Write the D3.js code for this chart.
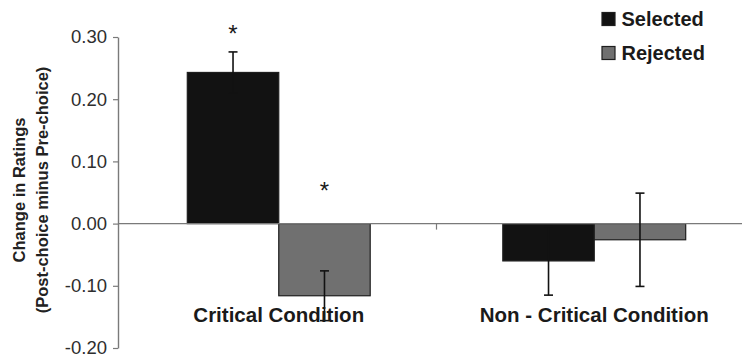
<!DOCTYPE html>
<html>
<head>
<meta charset="utf-8">
<script src="https://cdn.jsdelivr.net/npm/d3@7"></script>
<style>
  html, body { margin: 0; padding: 0; background: #fff; }
  svg { display: block; font-family: "Liberation Sans", Arial, sans-serif; }
</style>
</head>
<body>
<svg id="chart" width="742" height="360"></svg>
<script>
// ---- data ----
const categories = ["Critical Condition", "Non - Critical Condition"];
const seriesNames = ["Selected", "Rejected"];
const selectedValues = [0.243, -0.060];
const rejectedValues = [-0.116, -0.026];
const selectedErrors = [0.033, 0.055];
const rejectedErrors = [0.040, 0.075];
// significance markers: [category index, series index, level in rating units]
const sigCategory = [0, 0];
const sigSeries = [0, 1];
const sigLevel = [0.292, 0.040];
const yTicks = [-0.20, -0.10, 0.00, 0.10, 0.20, 0.30];
const yTickLabels = ["-0.20", "-0.10", "0.00", "0.10", "0.20", "0.30"];
const yTitleLines = ["Change in Ratings", "(Post-choice minus Pre-choice)"];

// ---- styles ----
const colors = { Selected: "#121212", Rejected: "#707070" };

const svg = d3.select("#chart");
const W = 742, H = 360;
const axisX = 118;

const y = d3.scaleLinear().domain([-0.2, 0.3]).range([348, 37]);
const x0 = d3.scaleBand().domain(categories).range([121, 752]).paddingInner(0).paddingOuter(0);
const x1 = d3.scaleBand().domain(seriesNames).range([0, x0.bandwidth()]).paddingInner(0).paddingOuter(0.725);

const rows = [];
categories.forEach((c, i) => {
  rows.push({ cat: c, series: "Selected", value: selectedValues[i], err: selectedErrors[i] });
  rows.push({ cat: c, series: "Rejected", value: rejectedValues[i], err: rejectedErrors[i] });
});

// bars
svg.append("g").selectAll("rect").data(rows).join("rect")
  .attr("x", d => x0(d.cat) + x1(d.series))
  .attr("width", x1.bandwidth())
  .attr("y", d => y(Math.max(0, d.value)))
  .attr("height", d => Math.abs(y(d.value) - y(0)))
  .attr("fill", d => colors[d.series])
  .attr("stroke", "#1e1e1e")
  .attr("stroke-width", 1.2);

// zero line
svg.append("line")
  .attr("x1", axisX).attr("x2", W)
  .attr("y1", y(0)).attr("y2", y(0))
  .attr("stroke", "#7a7a7a").attr("stroke-width", 1.4);

// category boundary tick
svg.append("g").selectAll("line").data(categories.slice(1)).join("line")
  .attr("x1", d => x0(d)).attr("x2", d => x0(d))
  .attr("y1", y(0)).attr("y2", y(0) + 6)
  .attr("stroke", "#7a7a7a").attr("stroke-width", 1.2);

// error bars
const eb = svg.append("g").attr("stroke", "#121212").attr("stroke-width", 1.6);
rows.forEach(d => {
  const cx = x0(d.cat) + x1(d.series) + x1.bandwidth() / 2;
  const yt = y(d.value + d.err), yb = y(d.value - d.err);
  eb.append("line").attr("x1", cx).attr("x2", cx).attr("y1", yt).attr("y2", yb);
  eb.append("line").attr("x1", cx - 4.5).attr("x2", cx + 4.5).attr("y1", yt).attr("y2", yt);
  eb.append("line").attr("x1", cx - 4.5).attr("x2", cx + 4.5).attr("y1", yb).attr("y2", yb);
});

// significance asterisks
svg.append("g").selectAll("text").data(sigLevel).join("text")
  .attr("x", (d, i) => x0(categories[sigCategory[i]]) + x1(seriesNames[sigSeries[i]]) + x1.bandwidth() / 2)
  .attr("y", d => y(d))
  .attr("text-anchor", "middle")
  .attr("font-size", 24)
  .attr("fill", "#1a1a1a")
  .text("*");

// y axis
const yAxis = d3.axisLeft(y).tickValues(yTicks)
  .tickFormat((d, i) => yTickLabels[i])
  .tickSize(5).tickSizeOuter(0).tickPadding(6);
const gy = svg.append("g").attr("transform", `translate(${axisX},0)`).call(yAxis);
gy.select(".domain").attr("stroke", "#7a7a7a").attr("stroke-width", 1.4);
gy.selectAll(".tick line").attr("stroke", "#7a7a7a").attr("stroke-width", 1.2);
gy.selectAll(".tick text")
  .attr("font-size", 18.5).attr("fill", "#2e2e2e")
  .attr("font-family", "'Liberation Sans', Arial, sans-serif");

// y axis title
const ttl = svg.append("g").attr("font-weight", "bold").attr("font-size", 16.5).attr("fill", "#222");
yTitleLines.forEach((t, i) => {
  ttl.append("text")
    .attr("transform", `translate(${24.5 + i * 23},190) rotate(-90)`)
    .attr("text-anchor", "middle")
    .text(t);
});

// category labels
svg.append("g").selectAll("text").data(categories).join("text")
  .attr("x", d => x0(d) + x0.bandwidth() / 2)
  .attr("y", 322)
  .attr("text-anchor", "middle")
  .attr("font-weight", "bold")
  .attr("font-size", 20.5)
  .attr("fill", "#1a1a1a")
  .text(d => d);

// legend
const lg = svg.append("g");
seriesNames.forEach((s, i) => {
  const yy = 12.5 + i * 34;
  lg.append("rect").attr("x", 602).attr("y", yy).attr("width", 13).attr("height", 13)
    .attr("fill", colors[s]).attr("stroke", "#1e1e1e").attr("stroke-width", 1.2);
  lg.append("text").attr("x", 621.5).attr("y", yy + 13.5)
    .attr("font-weight", "bold").attr("font-size", 20).attr("fill", "#1a1a1a")
    .text(s);
});
</script>
</body>
</html>
